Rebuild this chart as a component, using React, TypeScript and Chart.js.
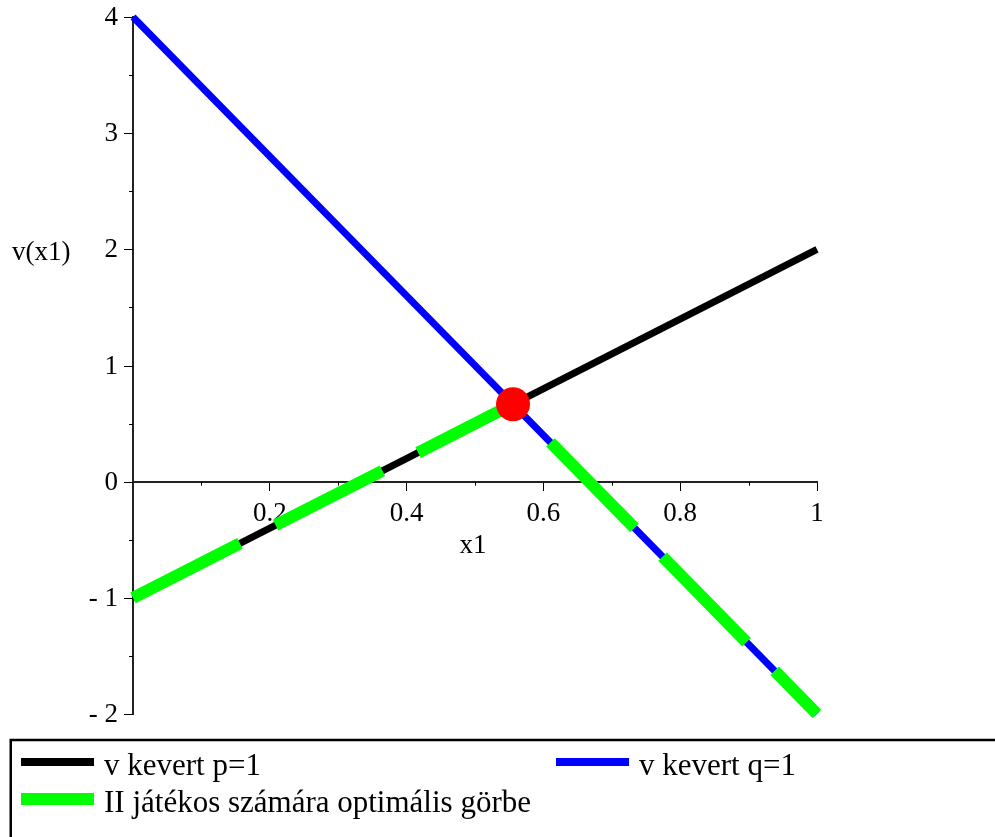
import React, { useEffect, useRef } from "react";
import { Chart, registerables } from "chart.js";

Chart.register(...registerables);

// Mixed-strategy payoff lines v(x1) for x1 in [0, 1]
const xEnds = [0, 1];
const vPure1 = [-1, 2]; // v kevert p=1
const vPure2 = [4, -2]; // v kevert q=1

// Lower envelope (player II's optimal curve) and the crossing point
const envelopeX = [0, 0.5556, 1];
const envelopeV = [-1, 0.6667, -2];
const crossX = [0.5556];
const crossV = [0.6667];

// Axis ticks
const xMajorTicks = [0.2, 0.4, 0.6, 0.8, 1];
const xMinorTicks = [0.1, 0.3, 0.5, 0.7, 0.9];
const yMajorTicks = [-2, -1, 0, 1, 2, 3, 4];
const yMinorTicks = [-1.5, -0.5, 0.5, 1.5, 2.5, 3.5];

const legendItems = [
  { label: "v kevert p=1", color: "#000000", width: 8 },
  { label: "v kevert q=1", color: "#0000ff", width: 8 },
  { label: "II játékos számára optimális görbe", color: "#00ff00", width: 12 },
];

const FONT = "'Liberation Serif', 'Times New Roman', serif";

const pts = (xs: number[], ys: number[]) => xs.map((x, i) => ({ x, y: ys[i] }));

const yLabel = (n: number) => (n < 0 ? `- ${Math.abs(n)}` : String(n));

const decorations = {
  id: "decorations",
  afterDraw(chart: any) {
    const { ctx, chartArea, scales } = chart;
    const xs = scales.x;
    const ys = scales.y;
    const axisY = ys.getPixelForValue(0);
    const axisX = xs.getPixelForValue(0);
    ctx.save();
    // ticks on the crossing axes
    ctx.strokeStyle = "#000";
    ctx.lineWidth = 1;
    ctx.beginPath();
    xMinorTicks.forEach((v) => {
      const px = Math.round(xs.getPixelForValue(v)) + 0.5;
      ctx.moveTo(px, axisY);
      ctx.lineTo(px, axisY + 4);
    });
    yMinorTicks.forEach((v) => {
      const py = Math.round(ys.getPixelForValue(v)) + 0.5;
      ctx.moveTo(axisX, py);
      ctx.lineTo(axisX - 4, py);
    });
    yMajorTicks.forEach((v) => {
      const py = Math.round(ys.getPixelForValue(v)) + 0.5;
      ctx.moveTo(axisX, py);
      ctx.lineTo(axisX - 9, py);
    });
    ctx.stroke();

    ctx.fillStyle = "#000";
    ctx.font = `27px ${FONT}`;
    // y tick labels
    ctx.textAlign = "right";
    ctx.textBaseline = "middle";
    yMajorTicks.forEach((v) => {
      ctx.fillText(yLabel(v), axisX - 15, ys.getPixelForValue(v) + 1);
    });

    // axis titles
    ctx.textBaseline = "alphabetic";
    ctx.textAlign = "center";
    ctx.fillText("x1", chartArea.left + 340, axisY + 71);
    ctx.textAlign = "left";
    ctx.fillText("v(x1)", 12, chartArea.top + 243);

    // legend box
    const top = chartArea.bottom + 26;
    ctx.lineWidth = 2.5;
    ctx.strokeStyle = "#000";
    ctx.strokeRect(10.75, top, 1100, 200);
    ctx.font = `31px ${FONT}`;
    const rows = [
      { item: legendItems[0], x: 21, y: top + 22 },
      { item: legendItems[1], x: 556, y: top + 22 },
      { item: legendItems[2], x: 21, y: top + 59 },
    ];
    rows.forEach(({ item, x, y }) => {
      ctx.fillStyle = item.color;
      ctx.fillRect(x, y - item.width / 2, 73, item.width);
      ctx.fillStyle = "#000";
      ctx.textBaseline = "alphabetic";
      ctx.fillText(item.label, x + 83, y + 13);
    });
    ctx.restore();
  },
};

export default function App() {
  const ref = useRef<HTMLCanvasElement>(null);

  useEffect(() => {
    if (!ref.current) return;
    const chart = new Chart(ref.current, {
      type: "scatter",
      data: {
        datasets: [
          {
            label: "crossing",
            data: pts(crossX, crossV),
            pointRadius: 17,
            pointHoverRadius: 17,
            pointBackgroundColor: "#ff0000",
            pointBorderWidth: 0,
            borderWidth: 0,
            showLine: false,
            order: 0,
            clip: false,
          },
          {
            label: "II játékos számára optimális görbe",
            data: pts(envelopeX, envelopeV),
            showLine: true,
            borderColor: "#00ff00",
            borderWidth: 12,
            borderDash: [120, 40],
            borderCapStyle: "butt",
            borderJoinStyle: "miter",
            pointRadius: 0,
            order: 1,
            clip: false,
          },
          {
            label: "v kevert q=1",
            data: pts(xEnds, vPure2),
            showLine: true,
            borderColor: "#0000ff",
            borderWidth: 7,
            borderCapStyle: "butt",
            pointRadius: 0,
            order: 2,
            clip: false,
          },
          {
            label: "v kevert p=1",
            data: pts(xEnds, vPure1),
            showLine: true,
            borderColor: "#000000",
            borderWidth: 7,
            borderCapStyle: "butt",
            pointRadius: 0,
            order: 3,
            clip: false,
          },
        ],
      },
      options: {
        responsive: false,
        animation: false,
        events: [],
        layout: { padding: { left: 133, right: 178, top: 17, bottom: 123 } },
        plugins: {
          legend: { display: false },
          tooltip: { enabled: false },
        },
        scales: {
          x: {
            type: "linear",
            min: 0,
            max: 1,
            position: { y: 0 },
            afterBuildTicks: (s: any) => {
              s.ticks = xMajorTicks.map((value) => ({ value }));
            },
            grid: {
              drawOnChartArea: false,
              drawTicks: true,
              tickLength: 8,
              tickColor: "#000",
              tickWidth: 1,
            },
            border: { display: true, color: "#222", width: 2 },
            ticks: {
              color: "#000",
              font: { family: FONT, size: 27 },
              padding: 8,
              maxRotation: 0,
              autoSkip: false,
              callback: (v: any) => String(Math.round(Number(v) * 10) / 10),
            },
          },
          y: {
            type: "linear",
            min: -2,
            max: 4,
            position: { x: 0 },
            afterBuildTicks: (s: any) => {
              s.ticks = yMajorTicks.map((value) => ({ value }));
            },
            grid: {
              drawOnChartArea: false,
              drawTicks: false,
            },
            border: { display: true, color: "#222", width: 2 },
            ticks: { display: false },
          },
        },
      },
      plugins: [decorations],
    });
    return () => chart.destroy();
  }, []);

  return (
    <div style={{ position: "fixed", left: 0, top: 0, width: 995, height: 837, background: "#fff" }}>
      <canvas ref={ref} width={995} height={837} />
    </div>
  );
}
